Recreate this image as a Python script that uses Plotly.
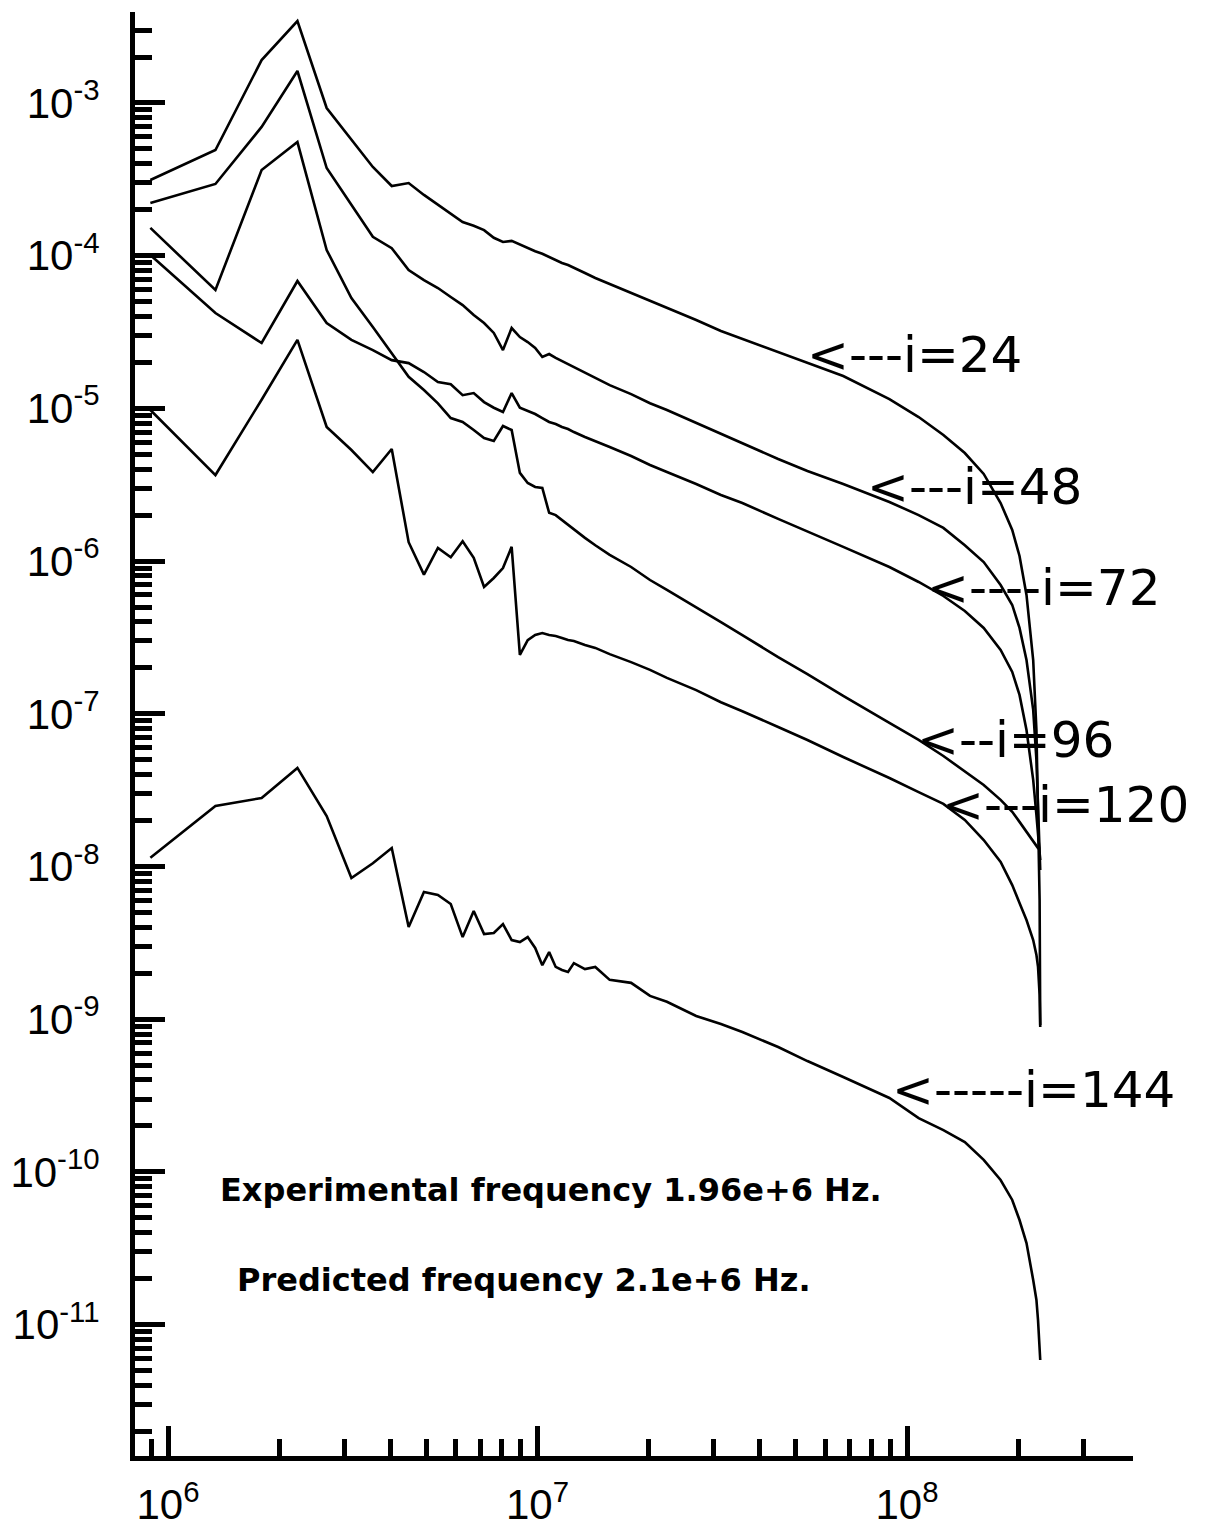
import plotly.graph_objects as go

# Frequency grid (Hz)
freq_hz = [8.96e5, 1.344e6, 1.792e6, 2.24e6, 2.688e6, 3.136e6, 3.584e6, 4.032e6, 4.48e6,
           4.928e6, 5.376e6, 5.824e6, 6.272e6, 6.72e6, 7.168e6, 7.616e6, 8.064e6, 8.512e6,
           8.96e6, 9.408e6, 9.856e6, 1.0304e7, 1.0752e7, 1.12e7, 1.1648e7, 1.2096e7, 1.2544e7,
           1.344e7, 1.4336e7, 1.568e7, 1.792e7, 2.016e7, 2.24e7, 2.688e7, 3.136e7, 3.584e7,
           4.48e7, 5.376e7, 6.72e7, 8.96e7, 1.0752e8, 1.2544e8, 1.4336e8, 1.6128e8, 1.792e8,
           1.9264e8, 2.016e8, 2.1056e8, 2.1952e8, 2.24e8, 2.2624e8, 2.2848e8, 2.2938e8]

psd_i24 = [3.13e-4, 4.92e-4, 1.91e-3, 3.44e-3, 9.27e-4, 5.72e-4, 3.81e-4, 2.86e-4, 2.99e-4,
           2.50e-4, 2.15e-4, 1.88e-4, 1.66e-4, 1.57e-4, 1.47e-4, 1.31e-4, 1.23e-4, 1.25e-4,
           1.18e-4, 1.12e-4, 1.07e-4, 1.03e-4, 9.81e-5, 9.37e-5, 8.96e-5, 8.69e-5, 8.30e-5,
           7.70e-5, 7.14e-5, 6.53e-5, 5.70e-5, 5.05e-5, 4.55e-5, 3.79e-5, 3.21e-5, 2.85e-5,
           2.34e-5, 2.01e-5, 1.63e-5, 1.15e-5, 8.78e-6, 6.69e-6, 5.10e-6, 3.72e-6, 2.40e-6,
           1.60e-6, 1.08e-6, 6.00e-7, 2.25e-7, 7.83e-8, 2.73e-8, 6.03e-9, 9.16e-10]

psd_i48 = [2.21e-4, 2.95e-4, 6.97e-4, 1.62e-3, 3.75e-4, 2.15e-4, 1.33e-4, 1.12e-4, 8.06e-5,
           6.93e-5, 6.14e-5, 5.36e-5, 4.75e-5, 4.09e-5, 3.62e-5, 3.12e-5, 2.41e-5, 3.36e-5,
           2.93e-5, 2.72e-5, 2.49e-5, 2.17e-5, 2.27e-5, 2.14e-5, 2.04e-5, 1.95e-5, 1.87e-5,
           1.70e-5, 1.58e-5, 1.42e-5, 1.24e-5, 1.08e-5, 9.76e-6, 8.02e-6, 6.80e-6, 5.93e-6,
           4.66e-6, 3.89e-6, 3.20e-6, 2.44e-6, 2.00e-6, 1.65e-6, 1.27e-6, 9.86e-7, 6.97e-7,
           5.16e-7, 3.65e-7, 2.25e-7, 1.06e-7, 4.98e-8, 2.73e-8, 1.49e-8, 9.49e-9]

psd_i72 = [1.01e-4, 4.21e-5, 2.68e-5, 6.83e-5, 3.62e-5, 2.81e-5, 2.41e-5, 2.07e-5, 1.98e-5,
           1.73e-5, 1.49e-5, 1.44e-5, 1.22e-5, 1.26e-5, 1.10e-5, 1.01e-5, 9.47e-6, 1.26e-5,
           1.01e-5, 9.62e-6, 9.19e-6, 8.65e-6, 8.15e-6, 7.90e-6, 7.55e-6, 7.33e-6, 7.00e-6,
           6.50e-6, 6.12e-6, 5.59e-6, 4.88e-6, 4.26e-6, 3.83e-6, 3.20e-6, 2.71e-6, 2.40e-6,
           1.89e-6, 1.57e-6, 1.24e-6, 9.15e-7, 7.30e-7, 5.91e-7, 4.71e-7, 3.65e-7, 2.62e-7,
           1.88e-7, 1.33e-7, 7.83e-8, 3.69e-8, 2.17e-8, 1.61e-8, 1.28e-8, 1.10e-8]

psd_i96 = [1.52e-4, 5.96e-5, 3.64e-4, 5.55e-4, 1.09e-4, 5.28e-5, 3.41e-5, 2.31e-5, 1.61e-5,
           1.32e-5, 1.08e-5, 8.65e-6, 8.15e-6, 7.22e-6, 6.40e-6, 6.12e-6, 7.67e-6, 7.22e-6,
           3.78e-6, 3.25e-6, 3.06e-6, 3.01e-6, 2.07e-6, 2.00e-6, 1.86e-6, 1.72e-6, 1.60e-6,
           1.42e-6, 1.27e-6, 1.10e-6, 9.15e-7, 7.52e-7, 6.47e-7, 5.01e-7, 3.99e-7, 3.28e-7,
           2.35e-7, 1.82e-7, 1.31e-7, 8.71e-8, 6.74e-8, 5.29e-8, 4.22e-8, 3.42e-8, 2.73e-8,
           2.28e-8, 1.96e-8, 1.68e-8, 1.45e-8, 1.36e-8, 1.32e-8, 1.32e-8, 1.32e-8]

psd_i120 = [9.76e-6, 3.66e-6, 1.14e-5, 2.81e-5, 7.55e-6, 5.34e-6, 3.83e-6, 5.42e-6, 1.33e-6,
            8.16e-7, 1.22e-6, 1.06e-6, 1.35e-6, 1.05e-6, 6.77e-7, 7.75e-7, 9.01e-7, 1.24e-6,
            2.43e-7, 3.04e-7, 3.28e-7, 3.38e-7, 3.28e-7, 3.23e-7, 3.14e-7, 3.04e-7, 3.00e-7,
            2.82e-7, 2.70e-7, 2.46e-7, 2.18e-7, 1.94e-7, 1.72e-7, 1.43e-7, 1.19e-7, 1.04e-7,
            8.20e-8, 6.74e-8, 5.21e-8, 3.80e-8, 3.07e-8, 2.57e-8, 2.02e-8, 1.49e-8, 1.07e-8,
            7.56e-9, 5.77e-9, 4.46e-9, 3.30e-9, 2.63e-9, 2.20e-9, 1.44e-9, 8.89e-10]

psd_i144 = [1.14e-8, 2.49e-8, 2.81e-8, 4.42e-8, 2.14e-8, 8.41e-9, 1.05e-8, 1.32e-8, 4.02e-9,
            6.81e-9, 6.51e-9, 5.68e-9, 3.45e-9, 5.11e-9, 3.61e-9, 3.67e-9, 4.20e-9, 3.30e-9,
            3.20e-9, 3.45e-9, 2.93e-9, 2.26e-9, 2.75e-9, 2.20e-9, 2.10e-9, 2.04e-9, 2.33e-9,
            2.13e-9, 2.20e-9, 1.81e-9, 1.73e-9, 1.42e-9, 1.30e-9, 1.05e-9, 9.30e-10, 8.24e-10,
            6.57e-10, 5.32e-10, 4.18e-10, 3.05e-10, 2.25e-10, 1.88e-10, 1.57e-10, 1.20e-10, 8.85e-11,
            6.55e-11, 4.84e-11, 3.42e-11, 1.96e-11, 1.45e-11, 1.07e-11, 7.35e-12, 5.86e-12]

series = [("i=24", psd_i24), ("i=48", psd_i48), ("i=72", psd_i72),
          ("i=96", psd_i96), ("i=120", psd_i120), ("i=144", psd_i144)]

# curve labels: text, left x (log10 Hz), y (log10)
label_texts = ["<---i=24", "<---i=48", "<----i=72", "<--i=96", "<---i=120", "<-----i=144"]
label_x_log = [7.724, 7.886, 8.049, 8.022, 8.089, 7.954]
label_y_log = [-4.650, -5.515, -6.176, -7.172, -7.597, -9.464]

x_tick_vals = [1e6, 1e7, 1e8]
x_tick_text = ["10<sup>6</sup>", "10<sup>7</sup>", "10<sup>8</sup>"]
y_tick_vals = [1e-3, 1e-4, 1e-5, 1e-6, 1e-7, 1e-8, 1e-9, 1e-10, 1e-11]
y_tick_text = ["10<sup>-3</sup>", "10<sup>-4</sup>", "10<sup>-5</sup>", "10<sup>-6</sup>",
               "10<sup>-7</sup>", "10<sup>-8</sup>", "10<sup>-9</sup>", "10<sup>-10</sup>",
               "10<sup>-11</sup>"]
x_minor_vals = [9e5] + [m * 1e6 for m in range(2, 10)] + [m * 1e7 for m in range(2, 10)] + [2e8, 3e8]
y_minor_vals = [m * 10.0 ** e for e in range(-12, -3) for m in range(2, 10)] + [2e-3, 3e-3]

fig = go.Figure()
for name, vals in series:
    fig.add_trace(go.Scatter(x=freq_hz, y=vals, mode="lines", name=name,
                             line=dict(color="black", width=2.6), showlegend=False))

for t, lx, ly in zip(label_texts, label_x_log, label_y_log):
    fig.add_annotation(x=lx, y=ly, xref="x", yref="y", text=t, showarrow=False,
                       xanchor="left", yanchor="middle",
                       font=dict(family="DejaVu Sans", size=50, color="black"))

fig.add_annotation(x=6.1353, y=-10.1185, xref="x", yref="y",
                   text="<b>Experimental frequency 1.96e+6 Hz.</b>", showarrow=False,
                   xanchor="left", yanchor="middle",
                   font=dict(family="DejaVu Sans", size=32, color="black"))
fig.add_annotation(x=6.1813, y=-10.708, xref="x", yref="y",
                   text="<b>Predicted frequency 2.1e+6 Hz.</b>", showarrow=False,
                   xanchor="left", yanchor="middle",
                   font=dict(family="DejaVu Sans", size=32, color="black"))

axis_common = dict(showline=True, linewidth=5, linecolor="black", mirror=False,
                   showgrid=False, zeroline=False, ticks="inside", ticklen=30,
                   tickwidth=5, tickcolor="black", tickmode="array", automargin=False)

fig.update_xaxes(type="log", range=[5.9107, 8.6116], tickvals=x_tick_vals, ticktext=x_tick_text,
                 tickfont=dict(family="Liberation Sans", size=42, color="black"),
                 ticklabelstandoff=8,
                 minor=dict(tickmode="array", tickvals=x_minor_vals, ticks="inside",
                            ticklen=17, tickwidth=5, tickcolor="black", showgrid=False),
                 **axis_common)
fig.update_yaxes(type="log", range=[-11.8605, -2.4041], tickvals=y_tick_vals, ticktext=y_tick_text,
                 tickfont=dict(family="Liberation Sans", size=42, color="black"),
                 ticklabelstandoff=22,
                 minor=dict(tickmode="array", tickvals=y_minor_vals, ticks="inside",
                            ticklen=17, tickwidth=5, tickcolor="black", showgrid=False),
                 **axis_common)

fig.update_layout(width=1225, height=1539, autosize=False,
                  margin=dict(l=135, r=92, t=12, b=83, pad=0),
                  plot_bgcolor="white", paper_bgcolor="white")

fig.write_html("out.html")
